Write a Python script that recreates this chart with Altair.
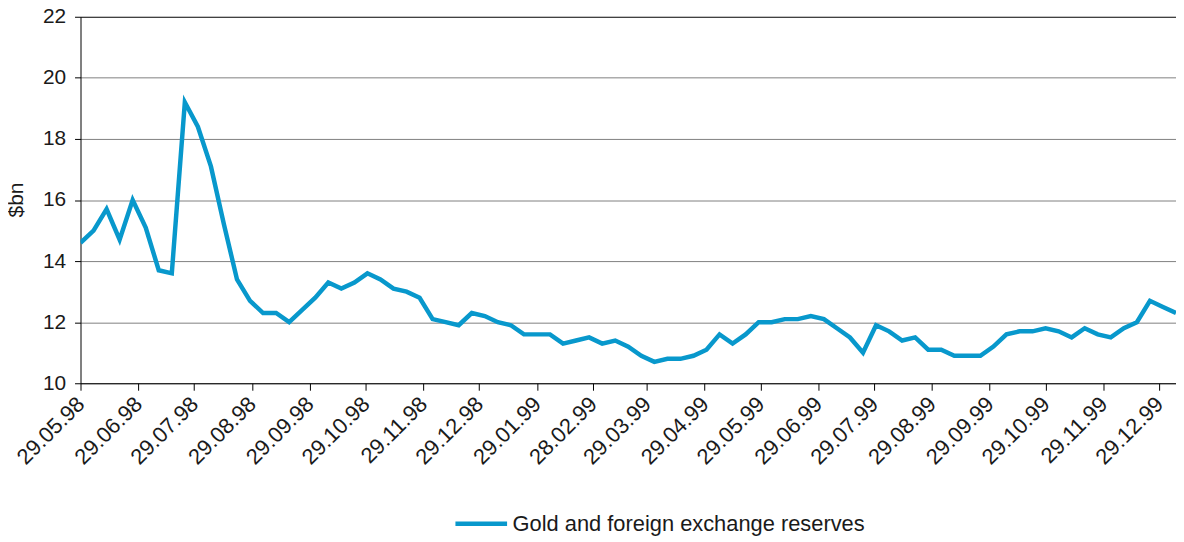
import altair as alt
import pandas as pd

series_name = "Gold and foreign exchange reserves"
reserves = [
    14.6, 15.0, 15.7, 14.7, 16.0, 15.1, 13.7, 13.6, 19.2, 18.4,
    17.1, 15.2, 13.4, 12.7, 12.3, 12.3, 12.0, 12.4, 12.8, 13.3,
    13.1, 13.3, 13.6, 13.4, 13.1, 13.0, 12.8, 12.1, 12.0, 11.9,
    12.3, 12.2, 12.0, 11.9, 11.6, 11.6, 11.6, 11.3, 11.4, 11.5,
    11.3, 11.4, 11.2, 10.9, 10.7, 10.8, 10.8, 10.9, 11.1, 11.6,
    11.3, 11.6, 12.0, 12.0, 12.1, 12.1, 12.2, 12.1, 11.8, 11.5,
    11.0, 11.9, 11.7, 11.4, 11.5, 11.1, 11.1, 10.9, 10.9, 10.9,
    11.2, 11.6, 11.7, 11.7, 11.8, 11.7, 11.5, 11.8, 11.6, 11.5,
    11.8, 12.0, 12.7, 12.5, 12.3,
]
week_dates = pd.date_range("1998-05-29", periods=len(reserves), freq="7D")
date_strings = [d.strftime("%Y/%m/%d") for d in week_dates]

tick_dates = [
    (1998, 5, 29), (1998, 6, 29), (1998, 7, 29), (1998, 8, 29), (1998, 9, 29),
    (1998, 10, 29), (1998, 11, 29), (1998, 12, 29), (1999, 1, 29), (1999, 2, 28),
    (1999, 3, 29), (1999, 4, 29), (1999, 5, 29), (1999, 6, 29), (1999, 7, 29),
    (1999, 8, 29), (1999, 9, 29), (1999, 10, 29), (1999, 11, 29), (1999, 12, 29),
]
y_ticks = [10, 12, 14, 16, 18, 20, 22]

df = pd.DataFrame({
    "date": date_strings,
    "value": reserves,
    "series": [series_name] * len(reserves),
})

FONT = "Liberation Sans"
TXT = "#1a1a1a"
FS = 21
FS_X = 22

tick_values = [alt.DateTime(year=y, month=m, date=d) for (y, m, d) in tick_dates]

chart = alt.Chart(df).mark_line(strokeWidth=4.5, strokeJoin="miter", clip=True).encode(
    x=alt.X(
        "date:T",
        scale=alt.Scale(
            domain=[alt.DateTime(year=1998, month=5, date=29), alt.DateTime(year=2000, month=1, date=7)]
        ),
        axis=alt.Axis(
            title=None,
            values=tick_values,
            format="%d.%m.%y",
            labelAngle=315,
            labelAlign="right",
            labelBaseline="middle",
            labelFont=FONT,
            labelFontSize=FS_X,
            labelColor=TXT,
            labelPadding=10,
            tickSize=7,
            tickColor="#000000",
            domainColor="#000000",
            grid=False,
            labelOverlap=False,
            labelBound=False,
            labelFlush=False,
        ),
    ),
    y=alt.Y(
        "value:Q",
        scale=alt.Scale(domain=[10, 22], nice=False, zero=False),
        axis=alt.Axis(
            title="$bn",
            values=y_ticks,
            titleFont=FONT,
            titleFontSize=FS,
            titleFontWeight="normal",
            titleColor=TXT,
            titleAngle=270,
            titleAlign="center",
            titleBaseline="middle",
            titleX=-64,
            titleY=184,
            labelFont=FONT,
            labelFontSize=FS,
            labelColor=TXT,
            labelPadding=9,
            tickSize=6,
            tickColor="#000000",
            domainColor="#000000",
            grid=True,
            gridColor={"condition": {"test": "datum.value === 22", "value": "#000000"}, "value": "#808080"},
            gridWidth=1,
        ),
    ),
    color=alt.Color(
        "series:N",
        scale=alt.Scale(range=["#0898cc"]),
        legend=alt.Legend(
            title=None,
            orient="none",
            legendX=375,
            legendY=482,
            symbolType="stroke",
            symbolSize=2704,
            symbolStrokeWidth=4.5,
            labelFont=FONT,
            labelFontSize=FS_X,
            labelColor=TXT,
            labelOffset=3,
            labelLimit=0,
        ),
    ),
).properties(
    width=1103,
    height=369,
    autosize=alt.AutoSizeParams(type="none"),
    padding={"left": 73, "top": 7, "right": 0, "bottom": 157},
).configure_view(
    stroke=None
)

chart.save("out.html", embed_options={"renderer": "svg", "actions": False})
